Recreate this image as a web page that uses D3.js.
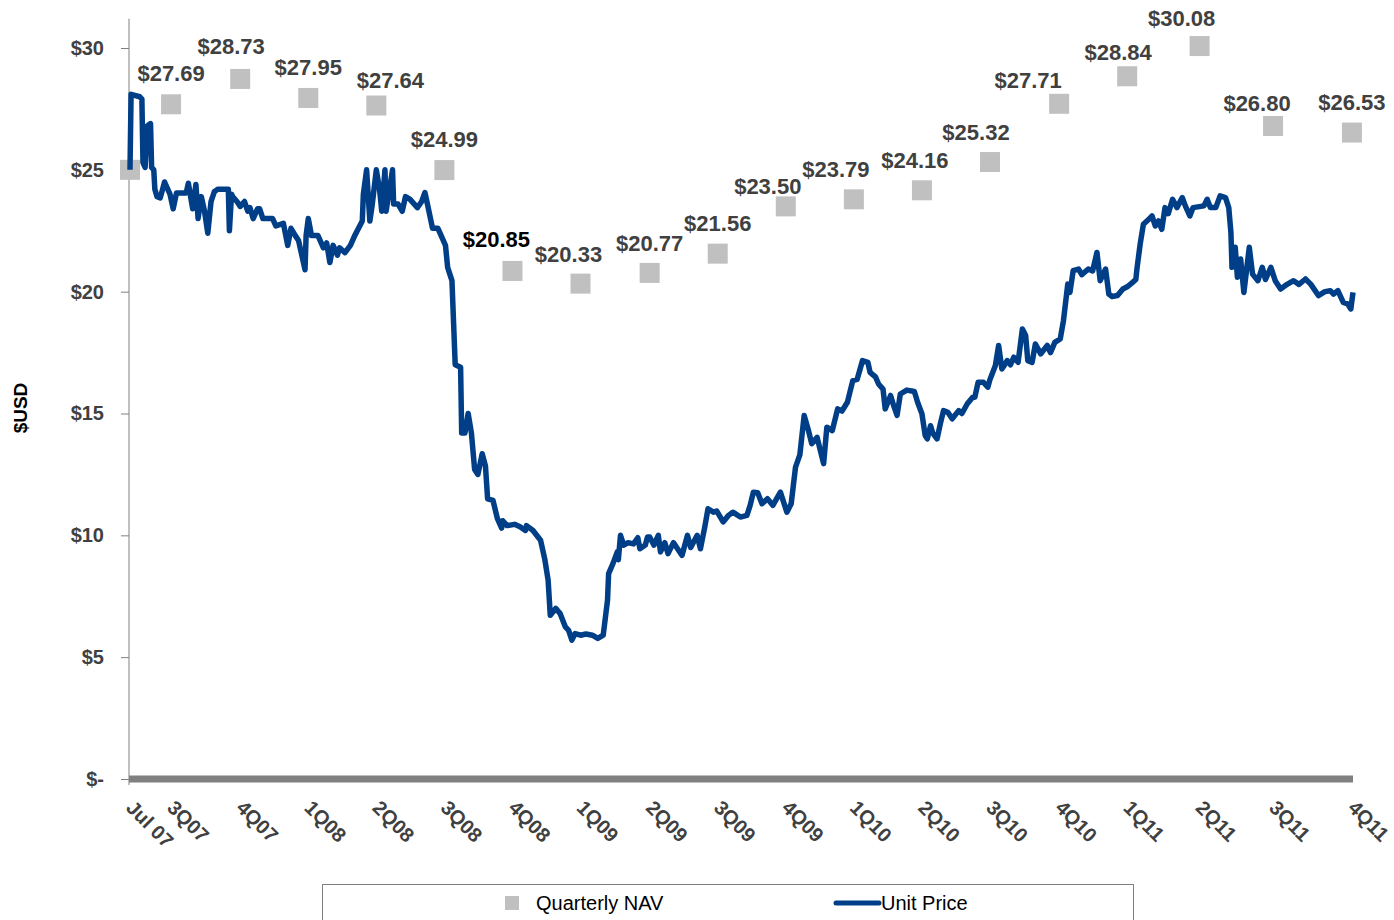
<!DOCTYPE html>
<html>
<head>
<meta charset="utf-8">
<script src="https://cdn.jsdelivr.net/npm/d3@7"></script>
<style>
  body { margin: 0; background: #fff; }
  text { font-family: "Liberation Sans", Arial, sans-serif; }
</style>
</head>
<body>
<div id="chart"></div>
<script>
// Quarter ticks (x position in trading days from the first observation)
const quarterLabels = ["Jul 07", "3Q07", "4Q07", "1Q08", "2Q08", "3Q08", "4Q08", "1Q09", "2Q09", "3Q09",
    "4Q09", "1Q10", "2Q10", "3Q10", "4Q10", "1Q11", "2Q11", "3Q11", "4Q11"];
const quarterDays = [0, 38, 102, 165, 228, 291, 354, 417, 481, 544, 607, 670, 733, 796, 860, 923, 990, 1058, 1131];

// Quarterly NAV, one per quarter tick
const navValues = [25.00, 27.69, 28.73, 27.95, 27.64, 24.99, 20.85, 20.33, 20.77, 21.56,
    23.50, 23.79, 24.16, 25.32, 27.71, 28.84, 30.08, 26.80, 26.53];

// Unit price, [trading day, price]
const unitPrice = [
    [0, 25.0], [1, 28.1], [9, 28.0], [11, 27.9], [12, 25.3], [14, 25.1], [16, 26.8], [19, 26.9],
    [20, 25.1], [22, 25.0], [23, 24.2], [25, 23.9], [28, 23.85], [32, 24.5], [37, 24.0], [40, 23.4],
    [43, 24.05], [52, 24.05], [54, 24.45], [58, 23.4], [61, 24.4], [63, 23.0], [66, 23.9], [69, 23.3],
    [72, 22.4], [75, 23.7], [78, 24.1], [81, 24.2], [91, 24.2], [92, 22.5], [94, 24.0], [95, 23.9],
    [99, 23.7], [102, 23.5], [106, 23.7], [109, 23.3], [111, 23.45], [114, 23.0], [118, 23.4], [120, 23.4],
    [123, 23.0], [132, 23.0], [135, 22.7], [142, 22.8], [146, 21.9], [149, 22.6], [153, 22.3], [156, 22.1],
    [162, 20.9], [163, 22.3], [165, 23.0], [168, 22.3], [174, 22.3], [179, 21.8], [182, 22.0], [185, 21.2],
    [188, 21.9], [192, 21.5], [194, 21.8], [199, 21.6], [204, 21.9], [208, 22.3], [215, 22.9], [216, 24.0],
    [219, 25.0], [222, 22.9], [224, 23.5], [228, 25.0], [231, 24.2], [233, 23.3], [236, 25.0], [237, 23.3],
    [243, 25.0], [244, 23.6], [248, 23.6], [252, 23.3], [255, 23.9], [259, 23.8], [266, 23.45], [270, 23.7],
    [273, 24.07], [276, 23.45], [280, 22.6], [285, 22.6], [288, 22.3], [292, 21.9], [294, 21.0], [298, 20.45],
    [301, 17.0], [306, 16.9], [307, 14.2], [310, 14.2], [313, 15.0], [316, 14.2], [319, 12.7], [322, 12.5],
    [326, 13.35], [329, 12.85], [331, 11.5], [336, 11.43], [340, 10.7], [344, 10.3], [345, 10.6], [349, 10.4],
    [356, 10.45], [361, 10.35], [366, 10.2], [367, 10.4], [373, 10.2], [380, 9.8], [384, 9.0], [387, 8.16],
    [389, 6.72], [394, 7.0], [398, 6.8], [403, 6.24], [406, 6.1], [409, 5.7], [412, 5.97], [417, 5.9],
    [422, 5.95], [428, 5.9], [433, 5.77], [438, 5.9], [442, 7.34], [443, 8.43], [447, 8.84], [451, 9.32],
    [452, 9.0], [454, 10.0], [457, 9.6], [461, 9.7], [466, 9.65], [470, 9.9], [472, 9.45], [477, 9.6],
    [479, 9.93], [481, 9.93], [485, 9.6], [489, 10.0], [491, 9.32], [495, 9.7], [498, 9.25], [503, 9.7],
    [506, 9.5], [511, 9.18], [516, 10.0], [519, 9.5], [525, 10.0], [528, 9.45], [532, 10.34], [535, 11.09],
    [540, 10.95], [543, 11.0], [549, 10.55], [554, 10.82], [558, 10.95], [565, 10.75], [571, 10.82], [574, 11.23],
    [577, 11.77], [581, 11.75], [585, 11.3], [590, 11.5], [595, 11.23], [602, 11.77], [608, 10.95], [612, 11.3],
    [616, 12.8], [620, 13.3], [624, 14.92], [628, 14.3], [631, 13.76], [636, 14.02], [639, 13.48], [642, 12.94],
    [645, 14.44], [650, 14.3], [655, 15.19], [659, 15.1], [664, 15.46], [669, 16.35], [673, 16.4], [678, 17.17],
    [683, 17.1], [685, 16.69], [690, 16.5], [693, 16.2], [697, 16.0], [699, 15.19], [704, 15.74], [707, 15.3],
    [710, 14.92], [713, 15.8], [719, 15.96], [726, 15.9], [729, 15.46], [733, 14.99], [736, 14.1], [738, 13.96],
    [741, 14.5], [743, 14.2], [747, 13.96], [750, 14.57], [753, 15.12], [757, 15.05], [761, 14.78], [767, 15.12],
    [770, 15.0], [775, 15.4], [780, 15.67], [782, 15.67], [785, 16.28], [790, 16.28], [794, 16.08], [796, 16.4],
    [801, 16.97], [804, 17.79], [807, 16.83], [812, 17.17], [815, 17.0], [818, 17.31], [822, 17.1], [826, 18.47],
    [829, 18.2], [831, 17.17], [835, 17.1], [838, 17.85], [843, 17.45], [849, 17.79], [852, 17.5], [856, 17.92],
    [861, 18.06], [864, 18.81], [868, 20.31], [870, 19.97], [873, 20.86], [878, 20.93], [881, 20.7], [887, 20.93],
    [891, 20.85], [895, 21.61], [898, 20.45], [903, 20.93], [906, 19.9], [909, 19.8], [914, 19.84], [919, 20.11],
    [923, 20.2], [928, 20.38], [931, 20.5], [932, 20.93], [935, 21.95], [938, 22.77], [943, 22.97], [946, 23.11],
    [949, 22.7], [952, 22.9], [955, 22.56], [958, 23.45], [961, 23.2], [965, 23.79], [969, 23.45], [974, 23.86],
    [977, 23.5], [981, 23.11], [984, 23.45], [994, 23.52], [997, 23.79], [1000, 23.45], [1005, 23.45], [1009, 23.93],
    [1014, 23.86], [1017, 23.45], [1019, 22.43], [1020, 21.0], [1023, 21.82], [1025, 20.59], [1028, 21.34], [1031, 19.97],
    [1036, 21.82], [1039, 20.72], [1044, 20.45], [1048, 21.0], [1051, 20.5], [1056, 21.0], [1060, 20.45], [1065, 20.11],
    [1071, 20.3], [1077, 20.45], [1082, 20.3], [1088, 20.52], [1093, 20.3], [1100, 19.84], [1106, 20.0], [1111, 20.04],
    [1114, 19.9], [1118, 20.04], [1123, 19.56], [1127, 19.5], [1130, 19.29], [1132, 19.97]
];

const yTicks = [0, 5, 10, 15, 20, 25, 30];

// Hand placement of the NAV labels relative to their markers (as in the original)
const navLabelNudge = [null, [0, -23], [-9, -25], [0, -23], [14, -18], [0, -23], [-16, -24], [-12, -22],
    [0, -22], [0, -23], [-18, -12], [-18, -22], [-7, -22], [-14, -22], [-31, -16], [-9, -16], [-18, -20],
    [-16, -15], [0, -23]];

const width = 1394, height = 920;
const navColor = "#c0c0c0", lineColor = "#003f87", axisColor = "#808080", textColor = "#404040";

const svg = d3.select("#chart").append("svg")
    .attr("width", width)
    .attr("height", height)
    .style("display", "block");

const x = d3.scaleLinear().domain([0, 1132]).range([130, 1353]);
const y = d3.scaleLinear().domain([0, 30]).range([779, 48]);

// y axis
const yAxis = svg.append("g")
    .attr("transform", "translate(129,0)")
    .call(d3.axisLeft(y).tickValues(yTicks).tickSize(8).tickPadding(17)
        .tickFormat(d => d === 0 ? "$-" : "$" + d));
yAxis.select(".domain").remove();
yAxis.selectAll(".tick line").attr("stroke", axisColor);
yAxis.selectAll(".tick text")
    .attr("fill", textColor)
    .attr("font-size", 20)
    .attr("font-weight", "bold")
    .attr("font-family", "Liberation Sans, Arial, sans-serif");
yAxis.append("line")
    .attr("y1", y(0) + 6)
    .attr("y2", y(31.2))
    .attr("stroke", axisColor)
    .attr("stroke-width", 1);

svg.append("text")
    .attr("transform", "translate(27,408) rotate(-90)")
    .attr("text-anchor", "middle")
    .attr("font-size", 19)
    .attr("font-weight", "bold")
    .attr("fill", "#000")
    .text("$USD");

// x axis bar
svg.append("line")
    .attr("x1", x(0) - 1)
    .attr("x2", x(1132))
    .attr("y1", y(0))
    .attr("y2", y(0))
    .attr("stroke", axisColor)
    .attr("stroke-width", 7);

svg.append("g").selectAll("text")
    .data(quarterLabels)
    .join("text")
    .attr("transform", (d, i) => `translate(${x(quarterDays[i]) - 5},809) rotate(45)`)
    .attr("font-size", 20)
    .attr("font-weight", "bold")
    .attr("fill", textColor)
    .text(d => d);

// NAV markers
svg.append("g").selectAll("rect")
    .data(navValues)
    .join("rect")
    .attr("x", (d, i) => x(quarterDays[i]) - 10)
    .attr("y", d => y(d) - 10)
    .attr("width", 20)
    .attr("height", 20)
    .attr("fill", navColor);

// NAV labels
svg.append("g").selectAll("text")
    .data(navValues.map((v, i) => ({ v, i })).filter(d => navLabelNudge[d.i]))
    .join("text")
    .attr("x", d => x(quarterDays[d.i]) + navLabelNudge[d.i][0])
    .attr("y", d => y(d.v) + navLabelNudge[d.i][1])
    .attr("text-anchor", "middle")
    .attr("font-size", 22)
    .attr("font-weight", "bold")
    .attr("fill", d => d.v === 20.85 ? "#000" : textColor)
    .text(d => "$" + d.v.toFixed(2));

// Unit price line
const line = d3.line()
    .x(d => x(d[0]))
    .y(d => y(d[1]));

svg.append("path")
    .datum(unitPrice)
    .attr("fill", "none")
    .attr("stroke", lineColor)
    .attr("stroke-width", 5.5)
    .attr("stroke-linejoin", "round")
    .attr("d", line);

// Legend
const legend = svg.append("g");
legend.append("rect")
    .attr("x", 322.5)
    .attr("y", 884.5)
    .attr("width", 811)
    .attr("height", 60)
    .attr("fill", "#fff")
    .attr("stroke", axisColor);
legend.append("rect")
    .attr("x", 505)
    .attr("y", 896)
    .attr("width", 14)
    .attr("height", 14)
    .attr("fill", navColor);
legend.append("text")
    .attr("x", 536)
    .attr("y", 910)
    .attr("font-size", 20)
    .attr("fill", "#000")
    .text("Quarterly NAV");
legend.append("line")
    .attr("x1", 836)
    .attr("x2", 879)
    .attr("y1", 903)
    .attr("y2", 903)
    .attr("stroke", lineColor)
    .attr("stroke-width", 5)
    .attr("stroke-linecap", "round");
legend.append("text")
    .attr("x", 881)
    .attr("y", 910)
    .attr("font-size", 20)
    .attr("fill", "#000")
    .text("Unit Price");
</script>
</body>
</html>
